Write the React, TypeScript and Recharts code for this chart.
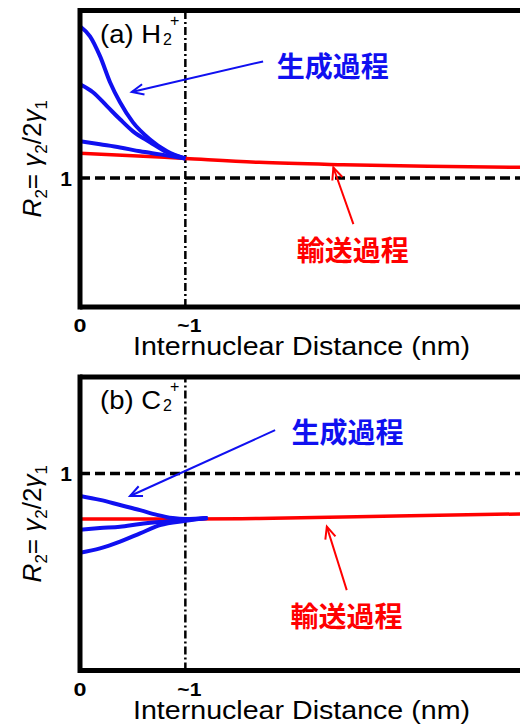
import React from 'react';
import { LineChart, Line, XAxis, YAxis, ReferenceLine, ReferenceDot } from 'recharts';

const LATIN = "'Liberation Sans', Arial, sans-serif";
const CJK = "'Noto Sans CJK JP', 'Noto Sans CJK SC', sans-serif";
const BLUE = '#1010f0';
const RED = '#ff0000';

const xTicks = [0, 1];
const xTickLabels = ['0', '~1'];
const yTicks = [1];
const xTitle = 'Internuclear Distance (nm)';
const blueLabel = '生成過程';
const redLabel = '輸送過程';
const xDomain = [0, 4.3];

// Panel (a) H2+
const aDomain = [0.5, 1.65];
const aTopX = [0, 0.095, 0.19, 0.285, 0.38, 0.503, 0.665, 0.826, 1.0];
const aTopY = [1.589, 1.55, 1.473, 1.372, 1.294, 1.216, 1.15, 1.104, 1.076];
const aMidX = [0, 0.123, 0.256, 0.38, 0.503, 0.665, 0.826, 1.0];
const aMidY = [1.364, 1.333, 1.279, 1.228, 1.181, 1.139, 1.1, 1.076];
const aLowX = [0, 0.19, 0.38, 0.57, 0.76, 1.0];
const aLowY = [1.143, 1.131, 1.119, 1.104, 1.092, 1.076];
const aRedX = [0, 0.5, 1.0, 1.7, 2.5, 3.3, 4.3];
const aRedY = [1.096, 1.087, 1.076, 1.061, 1.052, 1.046, 1.041];

// Panel (b) C2+
const bDomain = [0.5, 1.245];
const bTopX = [0, 0.19, 0.38, 0.57, 0.73, 0.88, 1.0, 1.21];
const bTopY = [0.943, 0.933, 0.92, 0.907, 0.895, 0.887, 0.8845, 0.887];
const bMidX = [0, 0.19, 0.38, 0.57, 0.76, 1.0, 1.21];
const bMidY = [0.8575, 0.8617, 0.865, 0.872, 0.877, 0.882, 0.887];
const bLowX = [0, 0.19, 0.38, 0.57, 0.76, 1.0, 1.21];
const bLowY = [0.799, 0.81, 0.827, 0.848, 0.869, 0.88, 0.887];
const bRedX = [0, 1.0, 1.7, 3.0, 4.3];
const bRedY = [0.8845, 0.8845, 0.886, 0.892, 0.898];

const zip = (xs: number[], ys: number[]) => xs.map((x, i) => ({ x, y: ys[i] }));

type PanelCfg = {
  name: string;
  mol: string;
  height: number;
  marginTop: number;
  xAxisHeight: number;
  yDomain: number[];
  blue: { x: number[]; y: number[] }[];
  red: { x: number[]; y: number[] };
  titlePos: [number, number];
  blueTextPos: [number, number];
  redTextPos: [number, number];
  blueArrow: [[number, number], [number, number]];
  redArrow: [[number, number], [number, number]];
};

const panels: PanelCfg[] = [
  {
    name: '(a)',
    mol: 'H',
    height: 366,
    marginTop: 10.5,
    xAxisHeight: 59,
    yDomain: aDomain,
    blue: [
      { x: aTopX, y: aTopY },
      { x: aMidX, y: aMidY },
      { x: aLowX, y: aLowY },
    ],
    red: { x: aRedX, y: aRedY },
    titlePos: [0.19, 1.524],
    blueTextPos: [2.4, 1.439],
    redTextPos: [2.588, 0.7246],
    blueArrow: [[1.738, 1.4525], [0.491, 1.3337]],
    redArrow: [[2.595, 0.8214], [2.405, 1.041]],
  },
  {
    name: '(b)',
    mol: 'C',
    height: 360,
    marginTop: 11,
    xAxisHeight: 55.5,
    yDomain: bDomain,
    blue: [
      { x: bTopX, y: bTopY },
      { x: bMidX, y: bMidY },
      { x: bLowX, y: bLowY },
    ],
    red: { x: bRedX, y: bRedY },
    titlePos: [0.19, 1.1637],
    blueTextPos: [2.54, 1.109],
    redTextPos: [2.53, 0.641],
    blueArrow: [[1.852, 1.11], [0.475, 0.943]],
    redArrow: [[2.532, 0.704], [2.343, 0.865]],
  },
];

const arrowShape = (color: string) => (props: any) => {
  const { x1, y1, x2, y2 } = props;
  const ang = Math.atan2(y2 - y1, x2 - x1);
  const L = 13;
  const s = 0.42;
  const ax = x2 - L * Math.cos(ang - s);
  const ay = y2 - L * Math.sin(ang - s);
  const bx = x2 - L * Math.cos(ang + s);
  const by = y2 - L * Math.sin(ang + s);
  return (
    <g>
      <line x1={x1} y1={y1} x2={x2} y2={y2} stroke={color} strokeWidth={2} />
      <polyline
        points={`${ax},${ay} ${x2},${y2} ${bx},${by}`}
        fill="none"
        stroke={color}
        strokeWidth={2}
      />
    </g>
  );
};

const YLabel = (props: any) => {
  const vb = props.viewBox || { x: 0, y: 0, width: 80, height: 300 };
  const cx = vb.x + 41;
  const cy = vb.y + vb.height / 2;
  return (
    <text
      transform={`translate(${cx},${cy}) rotate(-90)`}
      textAnchor="middle"
      fontSize={26}
      fontFamily={LATIN}
      fill="#000"
    >
      <tspan fontStyle="italic">R</tspan>
      <tspan fontSize={17} dy={6}>2</tspan>
      <tspan dy={-6}>= </tspan>
      <tspan fontStyle="italic">γ</tspan>
      <tspan fontSize={17} dy={6}>2</tspan>
      <tspan dy={-6}>/2</tspan>
      <tspan fontStyle="italic">γ</tspan>
      <tspan fontSize={17} dy={6}>1</tspan>
    </text>
  );
};

const XLabel = (props: any) => {
  const vb = props.viewBox || { x: 80, y: 307, width: 453, height: 59 };
  return (
    <text
      x={vb.x + 53}
      y={vb.y + 48}
      textAnchor="start"
      fontSize={25}
      fontFamily={LATIN}
      fill="#000"
      textLength={337}
      lengthAdjust="spacingAndGlyphs"
    >
      {xTitle}
    </text>
  );
};

const XTick = (props: any) => {
  const { x, y, payload } = props;
  const idx = xTicks.indexOf(payload.value);
  const isOne = payload.value === 1;
  const w = isOne ? 24 : 13;
  return (
    <text
      x={x + (isOne ? 4 : 0) - w / 2}
      y={y + 17}
      textAnchor="start"
      fontSize={19}
      fontWeight="bold"
      fontFamily={LATIN}
      fill="#000"
      textLength={w}
      lengthAdjust="spacingAndGlyphs"
    >
      {idx >= 0 ? xTickLabels[idx] : payload.value}
    </text>
  );
};

const Panel = ({ cfg }: { cfg: PanelCfg }) => {
  const [, yMax] = cfg.yDomain;
  return (
    <LineChart width={540} height={cfg.height} margin={{ top: cfg.marginTop, right: 7, bottom: 0, left: 0 }}>
      <XAxis
        type="number"
        dataKey="x"
        domain={xDomain}
        ticks={xTicks}
        tickLine={false}
        axisLine={{ stroke: '#000', strokeWidth: 5 }}
        height={cfg.xAxisHeight}
        tick={<XTick />}
        label={<XLabel />}
        allowDataOverflow
      />
      <YAxis
        type="number"
        domain={cfg.yDomain}
        ticks={yTicks}
        width={80}
        tickLine={false}
        axisLine={{ stroke: '#000', strokeWidth: 5, strokeLinecap: 'square' }}
        tick={{ fontSize: 21, fontWeight: 'bold', fill: '#000', fontFamily: LATIN }}
        label={<YLabel />}
        allowDataOverflow
      />
      <ReferenceLine y={yMax} stroke="#000" strokeWidth={5} ifOverflow="visible" />
      <ReferenceLine y={1} stroke="#000" strokeWidth={3.5} strokeDasharray="10 5" />
      <ReferenceLine x={1} stroke="#000" strokeWidth={2.5} strokeDasharray="8 3 2 3" />
      <Line
        data={zip(cfg.red.x, cfg.red.y)}
        dataKey="y"
        type="monotone"
        stroke={RED}
        strokeWidth={3.5}
        dot={false}
        isAnimationActive={false}
      />
      {cfg.blue.map((s, i) => (
        <Line
          key={i}
          data={zip(s.x, s.y)}
          dataKey="y"
          type="monotone"
          stroke={BLUE}
          strokeWidth={4}
          dot={false}
          isAnimationActive={false}
        />
      ))}
      <ReferenceLine
        segment={[
          { x: cfg.blueArrow[0][0], y: cfg.blueArrow[0][1] },
          { x: cfg.blueArrow[1][0], y: cfg.blueArrow[1][1] },
        ]}
        shape={arrowShape(BLUE)}
      />
      <ReferenceLine
        segment={[
          { x: cfg.redArrow[0][0], y: cfg.redArrow[0][1] },
          { x: cfg.redArrow[1][0], y: cfg.redArrow[1][1] },
        ]}
        shape={arrowShape(RED)}
      />
      <ReferenceDot
        x={cfg.titlePos[0]}
        y={cfg.titlePos[1]}
        r={0}
        shape={(p: any) => (
          <g fill="#000" fontFamily={LATIN}>
            <text x={p.cx} y={p.cy} fontSize={25} textLength={61} lengthAdjust="spacingAndGlyphs">
              {`${cfg.name} ${cfg.mol}`}
            </text>
            <text x={p.cx + 63} y={p.cy + 2} fontSize={16}>2</text>
            <text x={p.cx + 70} y={p.cy - 17} fontSize={16}>+</text>
          </g>
        )}
      />
      <ReferenceDot
        x={cfg.blueTextPos[0]}
        y={cfg.blueTextPos[1]}
        r={0}
        shape={(p: any) => (
          <text
            x={p.cx}
            y={p.cy}
            textAnchor="middle"
            dominantBaseline="central"
            fontSize={28}
            fontWeight="bold"
            fontFamily={CJK}
            fill={BLUE}
          >
            {blueLabel}
          </text>
        )}
      />
      <ReferenceDot
        x={cfg.redTextPos[0]}
        y={cfg.redTextPos[1]}
        r={0}
        shape={(p: any) => (
          <text
            x={p.cx}
            y={p.cy}
            textAnchor="middle"
            dominantBaseline="central"
            fontSize={28}
            fontWeight="bold"
            fontFamily={CJK}
            fill={RED}
          >
            {redLabel}
          </text>
        )}
      />
    </LineChart>
  );
};

export default function App() {
  return (
    <div
      style={{
        position: 'absolute',
        left: 0,
        top: 0,
        width: 520,
        height: 726,
        overflow: 'hidden',
        background: '#fff',
      }}
    >
      {panels.map((p) => (
        <Panel key={p.name} cfg={p} />
      ))}
    </div>
  );
}
